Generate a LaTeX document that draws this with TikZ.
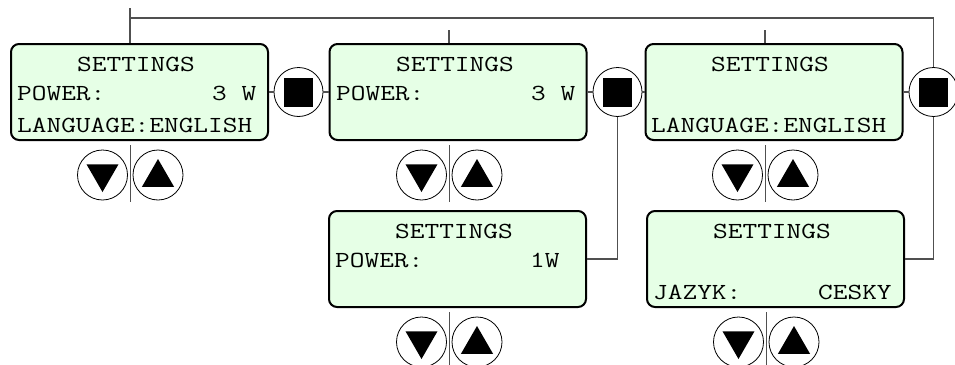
\documentclass[tikz,border=0pt]{standalone}
\usepackage{fontspec}
\newfontfamily\lcdfont[FakeStretch=1.24]{Latin Modern Mono}
\usetikzlibrary{shapes.geometric,calc}
\definecolor{lcdgreen}{RGB}{230,255,230}
\definecolor{wiregray}{RGB}{80,80,80}
\begin{document}
\begin{tikzpicture}[x=1pt,y=-1pt,
 lcd/.style={draw=black,line width=2pt,rounded corners=8pt,fill=lcdgreen,minimum width=257pt,minimum height=96pt,inner sep=0pt},
 txt/.style={anchor=base west,inner sep=0pt,font=\lcdfont\fontsize{23}{28}\selectfont},
 wire/.style={draw=wiregray,line width=1.2pt},
 btn/.style={circle,draw=black,line width=0.8pt,fill=white,minimum size=49pt,inner sep=0pt},
 sq/.style={fill=black,minimum size=29pt,inner sep=0pt},
 tri/.style={regular polygon,regular polygon sides=3,fill=black,minimum size=37pt,inner sep=0pt},
 tridown/.style={tri,shape border rotate=180}
]
\useasboundingbox (0,0) rectangle (955,364);
% boxes
\node[lcd] (b1) at (139.5,92) {};
\node[lcd] (b2) at (458,92) {};
\node[lcd] (b3) at (774,92) {};
\node[lcd] (b4) at (457.5,259) {};
\node[lcd] (b5) at (775.5,259) {};
% texts
\node[txt] (t1a) at (77,71) {SETTINGS};
\node[txt] (t1b) at (17,100) {POWER:};
\node[txt] (t1c) at (212,100) {3 W};
\node[txt] (t1d) at (17,132.5) {LANGUAGE:ENGLISH};
\node[txt] (t2a) at (396,71) {SETTINGS};
\node[txt] (t2b) at (336,100) {POWER:};
\node[txt] (t2c) at (531,100) {3 W};
\node[txt] (t3a) at (711,71) {SETTINGS};
\node[txt] (t3d) at (651,132.5) {LANGUAGE:ENGLISH};
\node[txt] (t4a) at (395,238) {SETTINGS};
\node[txt] (t4b) at (335,267) {POWER:};
\node[txt] (t4c) at (530,267) {1W};
\node[txt] (t5a) at (713,238) {SETTINGS};
\node[txt] (t5b) at (653,299.5) {JAZYK:};
\node[txt] (t5c) at (818,299.5) {CESKY};
% enter buttons
\node[btn] (c1) at (298.5,92) {};
\node[sq] (s1) at (c1) {};
\node[btn] (c2) at (617.5,92) {};
\node[sq] (s2) at (c2) {};
\node[btn] (c3) at (933.5,92) {};
\node[sq] (s3) at (c3) {};
% wires
\coordinate (k0) at (130,8);
\coordinate (k1) at (130,18);
\coordinate (k2) at (449,30);
\coordinate (k3) at (765,30);
\draw[wire] (k0) -- (k0 |- b1.north);
\draw[wire] (c3.north) |- (k1);
\draw[wire] (k2) -- (k2 |- b2.north);
\draw[wire] (k3) -- (k3 |- b3.north);
\draw[wire] (b1.east) -- (c1.west);
\draw[wire] (c1.east) -- (b2.west);
\draw[wire] (b2.east) -- (c2.west);
\draw[wire] (c2.east) -- (b3.west);
\draw[wire] (b3.east) -- (c3.west);
\draw[wire] (c2.south) |- (b4.east);
\draw[wire] (c3.south) |- (b5.east);
% arrow button pairs
\foreach \n/\x/\y/\ya/\yb in {p1/130/175/145/202, p2/449/175/145/202, p3/765/175/145/202, p4/449/342/312/370, p5/766/342/312/370}{
  \coordinate (\n top) at (\x,\ya);
  \coordinate (\n bot) at (\x,\yb);
  \draw[wire,line width=1pt] (\n top) -- (\n bot);
  \node[btn,minimum size=50pt] (\n d) at (\x-27.5,\y) {};
  \node[btn,minimum size=50pt] (\n u) at (\x+28,\y) {};
  \node[tridown] (\n dt) at ($(\n d)+(0,-1.5)$) {};
  \node[tri] (\n ut) at ($(\n u)+(0,2.5)$) {};
}
\end{tikzpicture}
\end{document}
